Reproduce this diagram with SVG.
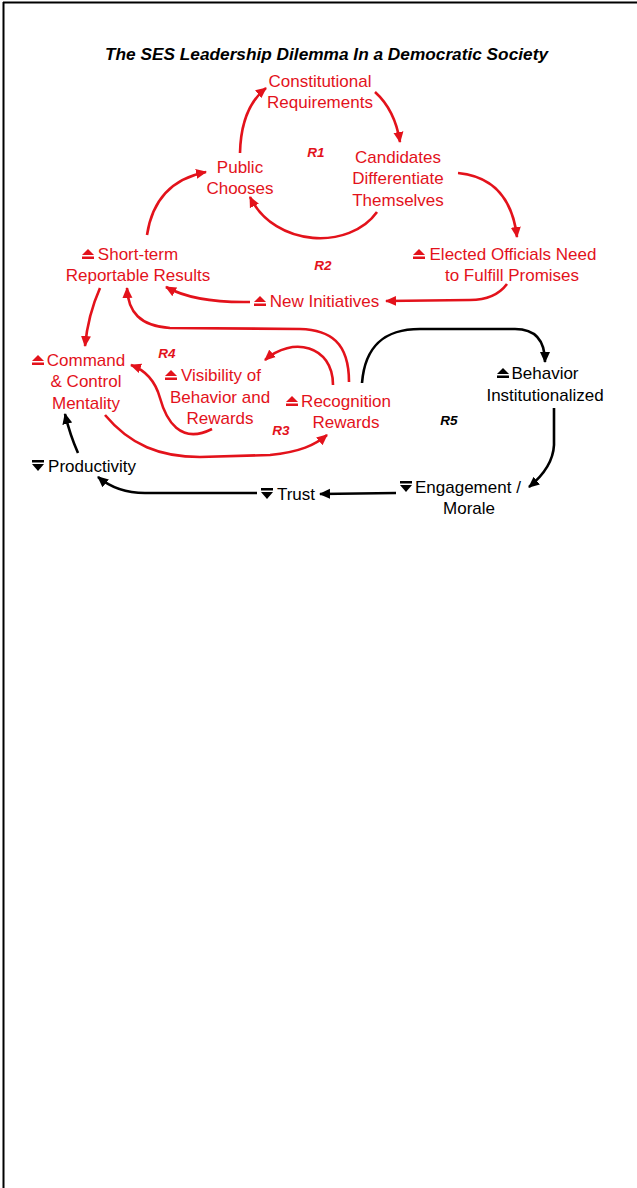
<svg xmlns="http://www.w3.org/2000/svg" xmlns:xlink="http://www.w3.org/1999/xlink" width="637" height="1188" viewBox="0 0 637 1188">
<style>
.t{font-family:"Liberation Sans",Arial,sans-serif;font-size:17px;text-anchor:middle}
.s{font-family:"Liberation Sans",Arial,sans-serif;font-size:17px;text-anchor:start}
.r{fill:#e3121b}
.k{fill:#000}
.lbl{font-family:"Liberation Sans",Arial,sans-serif;font-size:13.5px;font-weight:bold;font-style:italic;text-anchor:middle}
.title{font-family:"Liberation Sans",Arial,sans-serif;font-size:17px;font-weight:bold;font-style:italic;text-anchor:middle;fill:#000}
.cr{fill:none;stroke:#e3121b;stroke-width:2.6;marker-end:url(#ar)}
.ck{fill:none;stroke:#000;stroke-width:2.6;marker-end:url(#ak)}
</style>
<defs>
<marker id="ar" markerUnits="userSpaceOnUse" markerWidth="12" markerHeight="11" refX="10" refY="5" orient="auto" viewBox="0 0 12 10">
<path d="M0,0 L11,5 L0,10 z" fill="#e3121b"/>
</marker>
<marker id="ak" markerUnits="userSpaceOnUse" markerWidth="12" markerHeight="11" refX="10" refY="5" orient="auto" viewBox="0 0 12 10">
<path d="M0,0 L11,5 L0,10 z" fill="#000"/>
</marker>
<g id="upR" fill="#e3121b"><polygon points="0,-5 12,-5 6,-11"/><rect x="0" y="-3.5" width="12" height="2.5"/></g>
<g id="upK" fill="#000"><polygon points="0,-5 12,-5 6,-11"/><rect x="0" y="-3.5" width="12" height="2.5"/></g>
<g id="dnK" fill="#000"><rect x="0" y="-12" width="12" height="2.5"/><polygon points="0,-8 12,-8 6,-1"/></g>
</defs>
<rect width="637" height="1188" fill="#fff"/>
<g id="border" stroke="#000" stroke-width="2" fill="none">
<line x1="3" y1="2.5" x2="637" y2="2.5"/>
<line x1="3.5" y1="2" x2="3.5" y2="1188"/>
</g>
<text class="title" x="326.5" y="60" textLength="443" lengthAdjust="spacingAndGlyphs">The SES Leadership Dilemma In a Democratic Society</text>

<g id="connectors">
<path class="cr" d="M240,153 Q241,108 266,88"/>
<path class="cr" d="M375,92 Q395,110 400,142"/>
<path class="cr" d="M458,173 Q510,178 517,237"/>
<path class="cr" d="M377,212 C350,250 275,248 250,197"/>
<path class="cr" d="M147,235 Q155,182 206,172"/>
<path class="cr" d="M507,284 Q495,300 470,300 L386,301"/>
<path class="cr" d="M250,302 Q195,303 166,287"/>
<path class="cr" d="M349,382 C349,342 330,330 300,329 L170,328 C140,326 128,312 127,288"/>
<path class="cr" d="M100,288 Q88,315 85,346"/>
<path class="cr" d="M333,385 C333,345 292,336 265,360"/>
<path class="cr" d="M212,429 C180,445 166,420 160,398 C155,380 145,370 131,365"/>
<path class="cr" d="M105,415 C130,445 160,457 200,457 L270,455 C300,452 315,445 327,435"/>
<path class="ck" d="M362,383 C365,345 385,329 420,329 L515,329 C535,329 545,340 545,362"/>
<path class="ck" d="M554,408 L554,445 C553,465 540,478 529,487"/>
<path class="ck" d="M396,493 L320,494"/>
<path class="ck" d="M257,493 L145,493 C125,493 110,487 98,477"/>
<path class="ck" d="M78,453 Q70,435 65,414"/>
</g>

<g id="constitutional">
<text class="t r" x="320" y="87">Constitutional</text>
<text class="t r" x="320" y="108">Requirements</text>
</g>
<g id="candidates">
<text class="t r" x="398" y="163">Candidates</text>
<text class="t r" x="398" y="184">Differentiate</text>
<text class="t r" x="398" y="206">Themselves</text>
</g>
<g id="public">
<text class="t r" x="240" y="173">Public</text>
<text class="t r" x="240" y="194">Chooses</text>
</g>
<g id="elected">
<use xlink:href="#upR" x="413" y="260"/>
<text class="t r" x="513" y="260">Elected Officials Need</text>
<text class="t r" x="512" y="281">to Fulfill Promises</text>
</g>
<g id="shortterm">
<use xlink:href="#upR" x="82" y="260"/>
<text class="t r" x="138" y="260">Short-term</text>
<text class="t r" x="138" y="281">Reportable Results</text>
</g>
<g id="newinit">
<use xlink:href="#upR" x="254" y="307"/>
<text class="t r" x="324.5" y="307">New Initiatives</text>
</g>
<g id="command">
<use xlink:href="#upR" x="32" y="366"/>
<text class="t r" x="86" y="366">Command</text>
<text class="t r" x="86" y="387">&amp; Control</text>
<text class="t r" x="86" y="409">Mentality</text>
</g>
<g id="visibility">
<use xlink:href="#upR" x="165" y="381"/>
<text class="t r" x="221" y="381">Visibility of</text>
<text class="t r" x="220" y="403">Behavior and</text>
<text class="t r" x="220" y="424">Rewards</text>
</g>
<g id="recognition">
<use xlink:href="#upR" x="286" y="407"/>
<text class="t r" x="346" y="407">Recognition</text>
<text class="t r" x="346" y="428">Rewards</text>
</g>
<g id="behavior">
<use xlink:href="#upK" x="497" y="379"/>
<text class="t k" x="545" y="379">Behavior</text>
<text class="t k" x="545" y="401">Institutionalized</text>
</g>
<g id="engagement">
<use xlink:href="#dnK" x="400" y="493"/>
<text class="s k" x="415" y="493">Engagement /</text>
<text class="t k" x="469" y="514">Morale</text>
</g>
<g id="trust">
<use xlink:href="#dnK" x="261" y="500"/>
<text class="t k" x="296" y="500">Trust</text>
</g>
<g id="productivity">
<use xlink:href="#dnK" x="32" y="472"/>
<text class="t k" x="92" y="472">Productivity</text>
</g>
<g id="loops">
<text class="lbl r" x="316" y="157">R1</text>
<text class="lbl r" x="323" y="270">R2</text>
<text class="lbl r" x="281" y="435">R3</text>
<text class="lbl r" x="167" y="358">R4</text>
<text class="lbl k" x="449" y="425">R5</text>
</g>
</svg>
